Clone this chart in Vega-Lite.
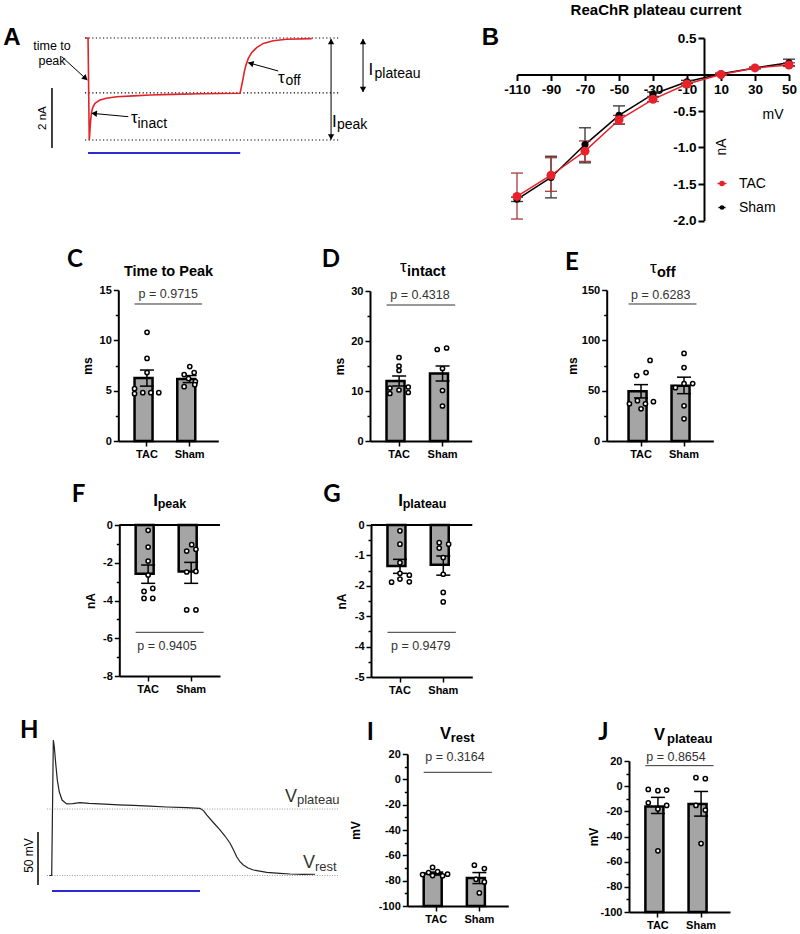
{
  "$schema": "https://vega.github.io/schema/vega-lite/v6.json",
  "width": 800,
  "height": 934,
  "padding": 0,
  "autosize": {"type": "none"},
  "background": "white",
  "config": {
    "view": {"stroke": null},
    "font": "Liberation Sans",
    "locale": {"number": {"decimal": ".", "thousands": ",", "grouping": [3], "currency": ["$", ""], "minus": "-"}},
    "axis": {"grid": false, "domainColor": "black", "domainWidth": 2, "tickColor": "black", "tickWidth": 1.5, "labelColor": "black", "labelFont": "Liberation Sans", "labelFontWeight": "bold", "titleColor": "black", "titleFont": "Liberation Sans", "titleFontWeight": "bold", "labelOverlap": false, "labelFlush": false, "labelPadding": 2}
  },
  "datasets": {
    "traceA": [
      {"t": -20, "nA": 0}, {"t": 0, "nA": 0}, {"t": 8, "nA": -3.4}, {"t": 11, "nA": -3.2}, {"t": 14, "nA": -2.95}, {"t": 18, "nA": -2.7}, {"t": 24, "nA": -2.45}, {"t": 32, "nA": -2.3}, {"t": 46, "nA": -2.18}, {"t": 62, "nA": -2.12}, {"t": 79, "nA": -2.07}, {"t": 120, "nA": -2.01}, {"t": 188, "nA": -1.96}, {"t": 300, "nA": -1.93}, {"t": 407, "nA": -1.9}, {"t": 560, "nA": -1.88}, {"t": 736, "nA": -1.86}, {"t": 999, "nA": -1.84}, {"t": 1010, "nA": -1.57}, {"t": 1017, "nA": -1.4}, {"t": 1027, "nA": -1.12}, {"t": 1038, "nA": -0.9}, {"t": 1053, "nA": -0.68}, {"t": 1075, "nA": -0.49}, {"t": 1108, "nA": -0.32}, {"t": 1152, "nA": -0.18}, {"t": 1217, "nA": -0.09}, {"t": 1305, "nA": -0.04}, {"t": 1470, "nA": -0.02}
    ],
    "levelsA": [{"nA": 0}, {"nA": -1.83}, {"nA": -3.4}],
    "arrowsA": [
      {"t1": -173, "i1": -0.623, "t2": -4.9, "i2": -1.4},
      {"t1": 264.6, "i1": -2.623, "t2": 24, "i2": -2.51},
      {"t1": 1250, "i1": -1.1, "t2": 1053, "i2": -0.823},
      {"t1": 1597, "i1": -0.033, "t2": 1597, "i2": -3.383},
      {"t1": 1807, "i1": -0.033, "t2": 1807, "i2": -1.8}
    ],
    "headsUpA": [{"t": 1597, "nA": -0.117}, {"t": 1807, "nA": -0.117}],
    "headsDownA": [{"t": 1597, "nA": -3.3}, {"t": 1807, "nA": -1.717}],
    "iv": [
      {"group": "Sham", "mV": -110, "nA": -1.71, "lo": -1.74, "hi": -1.68},
      {"group": "Sham", "mV": -90, "nA": -1.41, "lo": -1.69, "hi": -1.12},
      {"group": "Sham", "mV": -70, "nA": -0.96, "lo": -1.21, "hi": -0.73},
      {"group": "Sham", "mV": -50, "nA": -0.56, "lo": -0.68, "hi": -0.43},
      {"group": "Sham", "mV": -30, "nA": -0.27, "lo": -0.3, "hi": -0.24},
      {"group": "Sham", "mV": -10, "nA": -0.1, "lo": -0.12, "hi": -0.08},
      {"group": "Sham", "mV": 10, "nA": 0.01, "lo": 0.0, "hi": 0.02},
      {"group": "Sham", "mV": 30, "nA": 0.09, "lo": 0.08, "hi": 0.1},
      {"group": "Sham", "mV": 50, "nA": 0.16, "lo": 0.12, "hi": 0.21},
      {"group": "TAC", "mV": -110, "nA": -1.67, "lo": -1.98, "hi": -1.35},
      {"group": "TAC", "mV": -90, "nA": -1.38, "lo": -1.6, "hi": -1.14},
      {"group": "TAC", "mV": -70, "nA": -1.05, "lo": -1.19, "hi": -0.91},
      {"group": "TAC", "mV": -50, "nA": -0.62, "lo": -0.68, "hi": -0.56},
      {"group": "TAC", "mV": -30, "nA": -0.34, "lo": -0.37, "hi": -0.31},
      {"group": "TAC", "mV": -10, "nA": -0.13, "lo": -0.15, "hi": -0.11},
      {"group": "TAC", "mV": 10, "nA": 0.0, "lo": -0.01, "hi": 0.01},
      {"group": "TAC", "mV": 30, "nA": 0.09, "lo": 0.08, "hi": 0.1},
      {"group": "TAC", "mV": 50, "nA": 0.13, "lo": 0.11, "hi": 0.16}
    ],
    "bars": [
      {"panel": "C", "group": "TAC", "mean": 6.25, "lo": 5.45, "hi": 7.05},
      {"panel": "C", "group": "Sham", "mean": 6.15, "lo": 5.8, "hi": 6.5},
      {"panel": "D", "group": "TAC", "mean": 12.0, "lo": 11.0, "hi": 13.0},
      {"panel": "D", "group": "Sham", "mean": 13.5, "lo": 12.0, "hi": 15.0},
      {"panel": "E", "group": "TAC", "mean": 49.5, "lo": 42.8, "hi": 56.0},
      {"panel": "E", "group": "Sham", "mean": 55.0, "lo": 47.0, "hi": 63.4},
      {"panel": "F", "group": "TAC", "mean": -2.58, "lo": -3.09, "hi": -2.12},
      {"panel": "F", "group": "Sham", "mean": -2.47, "lo": -3.09, "hi": -1.98},
      {"panel": "G", "group": "TAC", "mean": -1.35, "lo": -1.59, "hi": -1.13},
      {"panel": "G", "group": "Sham", "mean": -1.31, "lo": -1.65, "hi": -1.02},
      {"panel": "I", "group": "TAC", "mean": -74.4, "lo": -75.6, "hi": -73.2},
      {"panel": "I", "group": "Sham", "mean": -77.8, "lo": -82.3, "hi": -73.6},
      {"panel": "J", "group": "TAC", "mean": -16.1, "lo": -21.7, "hi": -8.9},
      {"panel": "J", "group": "Sham", "mean": -14.2, "lo": -23.8, "hi": -4.2}
    ],
    "pts": [
      {"panel": "C", "group": "TAC", "v": 10.8, "col": 0}, {"panel": "C", "group": "TAC", "v": 8.2, "col": 0}, {"panel": "C", "group": "TAC", "v": 6.8, "col": 0}, {"panel": "C", "group": "TAC", "v": 5.2, "col": -1.0}, {"panel": "C", "group": "TAC", "v": 4.7, "col": -1.0}, {"panel": "C", "group": "TAC", "v": 4.8, "col": -0.34}, {"panel": "C", "group": "TAC", "v": 4.8, "col": 0.3}, {"panel": "C", "group": "TAC", "v": 4.8, "col": 0.94},
      {"panel": "C", "group": "Sham", "v": 7.4, "col": 0}, {"panel": "C", "group": "Sham", "v": 6.6, "col": -0.45}, {"panel": "C", "group": "Sham", "v": 6.8, "col": 0.35}, {"panel": "C", "group": "Sham", "v": 6.2, "col": -0.1}, {"panel": "C", "group": "Sham", "v": 5.9, "col": 0.45}, {"panel": "C", "group": "Sham", "v": 5.4, "col": -0.45}, {"panel": "C", "group": "Sham", "v": 5.6, "col": 0.4},
      {"panel": "D", "group": "TAC", "v": 16.7, "col": 0}, {"panel": "D", "group": "TAC", "v": 15.0, "col": 0}, {"panel": "D", "group": "TAC", "v": 14.1, "col": 0}, {"panel": "D", "group": "TAC", "v": 10.6, "col": -0.73}, {"panel": "D", "group": "TAC", "v": 9.5, "col": -0.73}, {"panel": "D", "group": "TAC", "v": 10.2, "col": 0}, {"panel": "D", "group": "TAC", "v": 10.8, "col": 0.74}, {"panel": "D", "group": "TAC", "v": 9.7, "col": 0.74},
      {"panel": "D", "group": "Sham", "v": 18.3, "col": -0.42}, {"panel": "D", "group": "Sham", "v": 18.6, "col": 0.33}, {"panel": "D", "group": "Sham", "v": 14.5, "col": 0}, {"panel": "D", "group": "Sham", "v": 10.1, "col": 0}, {"panel": "D", "group": "Sham", "v": 7.0, "col": 0},
      {"panel": "E", "group": "TAC", "v": 80, "col": 0.72}, {"panel": "E", "group": "TAC", "v": 65, "col": -0.35}, {"panel": "E", "group": "TAC", "v": 68, "col": 0.4}, {"panel": "E", "group": "TAC", "v": 37, "col": -0.93}, {"panel": "E", "group": "TAC", "v": 40, "col": -0.29}, {"panel": "E", "group": "TAC", "v": 37, "col": 0.35}, {"panel": "E", "group": "TAC", "v": 32, "col": 0}, {"panel": "E", "group": "TAC", "v": 39, "col": 0.99},
      {"panel": "E", "group": "Sham", "v": 87, "col": 0}, {"panel": "E", "group": "Sham", "v": 73, "col": 0}, {"panel": "E", "group": "Sham", "v": 57, "col": 0}, {"panel": "E", "group": "Sham", "v": 57, "col": 0.69}, {"panel": "E", "group": "Sham", "v": 53, "col": -0.69}, {"panel": "E", "group": "Sham", "v": 35, "col": 0}, {"panel": "E", "group": "Sham", "v": 22, "col": 0},
      {"panel": "F", "group": "TAC", "v": -0.28, "col": 0}, {"panel": "F", "group": "TAC", "v": -1.17, "col": 0}, {"panel": "F", "group": "TAC", "v": -1.91, "col": 0}, {"panel": "F", "group": "TAC", "v": -2.65, "col": 0}, {"panel": "F", "group": "TAC", "v": -3.36, "col": 0.37}, {"panel": "F", "group": "TAC", "v": -3.52, "col": -0.33}, {"panel": "F", "group": "TAC", "v": -3.89, "col": -0.33}, {"panel": "F", "group": "TAC", "v": -3.89, "col": 0.37},
      {"panel": "F", "group": "Sham", "v": -1.04, "col": 0.04}, {"panel": "F", "group": "Sham", "v": -1.38, "col": -0.36}, {"panel": "F", "group": "Sham", "v": -1.29, "col": 0.38}, {"panel": "F", "group": "Sham", "v": -2.49, "col": -0.36}, {"panel": "F", "group": "Sham", "v": -2.46, "col": 0.38}, {"panel": "F", "group": "Sham", "v": -4.5, "col": -0.36}, {"panel": "F", "group": "Sham", "v": -4.5, "col": 0.38},
      {"panel": "G", "group": "TAC", "v": -0.19, "col": 0}, {"panel": "G", "group": "TAC", "v": -0.63, "col": 0}, {"panel": "G", "group": "TAC", "v": -1.24, "col": 0}, {"panel": "G", "group": "TAC", "v": -1.59, "col": 0}, {"panel": "G", "group": "TAC", "v": -1.78, "col": 0}, {"panel": "G", "group": "TAC", "v": -1.65, "col": 0.75}, {"panel": "G", "group": "TAC", "v": -1.87, "col": 0.75}, {"panel": "G", "group": "TAC", "v": -1.88, "col": -0.67},
      {"panel": "G", "group": "Sham", "v": -0.58, "col": -0.32}, {"panel": "G", "group": "Sham", "v": -0.76, "col": -0.32}, {"panel": "G", "group": "Sham", "v": -0.63, "col": 0.43}, {"panel": "G", "group": "Sham", "v": -1.07, "col": 0}, {"panel": "G", "group": "Sham", "v": -1.62, "col": 0}, {"panel": "G", "group": "Sham", "v": -2.22, "col": 0}, {"panel": "G", "group": "Sham", "v": -2.53, "col": 0},
      {"panel": "I", "group": "TAC", "v": -75.2, "col": -1.09}, {"panel": "I", "group": "TAC", "v": -73.6, "col": -0.61}, {"panel": "I", "group": "TAC", "v": -69.6, "col": -0.29}, {"panel": "I", "group": "TAC", "v": -76.0, "col": -0.29}, {"panel": "I", "group": "TAC", "v": -72.8, "col": 0.11}, {"panel": "I", "group": "TAC", "v": -76.2, "col": 0.51}, {"panel": "I", "group": "TAC", "v": -74.9, "col": 0.91},
      {"panel": "I", "group": "Sham", "v": -67.8, "col": -0.4}, {"panel": "I", "group": "Sham", "v": -70.4, "col": 0.4}, {"panel": "I", "group": "Sham", "v": -78.9, "col": -0.27}, {"panel": "I", "group": "Sham", "v": -81.0, "col": 0.4}, {"panel": "I", "group": "Sham", "v": -89.7, "col": 0},
      {"panel": "J", "group": "TAC", "v": -2.6, "col": -0.77}, {"panel": "J", "group": "TAC", "v": -3.6, "col": 0}, {"panel": "J", "group": "TAC", "v": -3.1, "col": 0.7}, {"panel": "J", "group": "TAC", "v": -13.2, "col": -0.77}, {"panel": "J", "group": "TAC", "v": -18.2, "col": 0}, {"panel": "J", "group": "TAC", "v": -15.3, "col": 0.7}, {"panel": "J", "group": "TAC", "v": -51.4, "col": 0},
      {"panel": "J", "group": "Sham", "v": 6.7, "col": -0.41}, {"panel": "J", "group": "Sham", "v": 5.9, "col": 0.34}, {"panel": "J", "group": "Sham", "v": -15.3, "col": -0.41}, {"panel": "J", "group": "Sham", "v": -19.0, "col": 0.34}, {"panel": "J", "group": "Sham", "v": -45.6, "col": 0}
    ],
    "traceH": [
      {"t": -18, "mV": -75}, {"t": -2, "mV": -75}, {"t": 9, "mV": 52.8}, {"t": 15.5, "mV": 46.5}, {"t": 25, "mV": 30.8}, {"t": 36, "mV": 15}, {"t": 49, "mV": 4}, {"t": 68, "mV": -3.8}, {"t": 99, "mV": -7.5}, {"t": 140, "mV": -7.2}, {"t": 189, "mV": -6.3}, {"t": 250, "mV": -7.0}, {"t": 324, "mV": -7.5}, {"t": 450, "mV": -8.3}, {"t": 550, "mV": -8.9}, {"t": 660, "mV": -9.6}, {"t": 775, "mV": -10.4}, {"t": 910, "mV": -11.0}, {"t": 1000, "mV": -11.6}, {"t": 1025, "mV": -14}, {"t": 1045, "mV": -17.9}, {"t": 1090, "mV": -25}, {"t": 1135, "mV": -32}, {"t": 1170, "mV": -38}, {"t": 1203, "mV": -44.6}, {"t": 1225, "mV": -50.5}, {"t": 1248, "mV": -57.3}, {"t": 1270, "mV": -62}, {"t": 1293, "mV": -65.1}, {"t": 1325, "mV": -68}, {"t": 1361, "mV": -69.8}, {"t": 1451, "mV": -72}, {"t": 1540, "mV": -73}, {"t": 1608, "mV": -73.6}, {"t": 1700, "mV": -74}, {"t": 1777, "mV": -73.8}
    ],
    "levelsH": [{"mV": -12.3}, {"mV": -75}]
  },
  "layer": [
    {
      "layer": [
        {"data": {"name": "levelsA"}, "mark": {"type": "rule", "color": "black", "strokeWidth": 1.2, "strokeDash": [1.2, 2.4]},
         "encoding": {"x": {"datum": -20, "type": "quantitative", "scale": {"domain": [-250, 2050], "range": [50, 400], "nice": false, "zero": false}, "axis": null}, "x2": {"datum": 1656}, "y": {"field": "nA", "type": "quantitative", "scale": {"domain": [-4.1, 0.6], "range": [161, 20], "nice": false, "zero": false}, "axis": null}}},
        {"data": {"name": "traceA"}, "mark": {"type": "line", "color": "#e32227", "strokeWidth": 1.6},
         "encoding": {"x": {"field": "t", "type": "quantitative", "axis": null}, "y": {"field": "nA", "type": "quantitative", "axis": null}}},
        {"data": {"values": [{}]}, "mark": {"type": "rule", "color": "#2a2ad0", "strokeWidth": 2},
         "encoding": {"x": {"datum": 0, "type": "quantitative", "axis": null}, "x2": {"datum": 1000}, "y": {"datum": -3.833, "type": "quantitative", "axis": null}}},
        {"data": {"values": [{}]}, "mark": {"type": "rule", "color": "black", "strokeWidth": 1.5},
         "encoding": {"x": {"datum": -237, "type": "quantitative", "axis": null}, "y": {"datum": -1.667, "type": "quantitative", "axis": null}, "y2": {"datum": -3.667}}},
        {"data": {"values": [{}]}, "mark": {"type": "text", "text": "2 nA", "angle": 270, "fontSize": 11.5, "align": "center", "baseline": "middle"},
         "encoding": {"x": {"datum": -296, "type": "quantitative", "axis": null}, "y": {"datum": -2.67, "type": "quantitative", "axis": null}}},
        {"data": {"name": "arrowsA"}, "mark": {"type": "rule", "color": "black", "strokeWidth": 1},
         "encoding": {"x": {"field": "t1", "type": "quantitative", "axis": null}, "x2": {"field": "t2"}, "y": {"field": "i1", "type": "quantitative", "axis": null}, "y2": {"field": "i2"}}},
        {"data": {"name": "headsUpA"}, "mark": {"type": "point", "shape": "triangle-up", "filled": true, "color": "black", "size": 40, "opacity": 1},
         "encoding": {"x": {"field": "t", "type": "quantitative", "axis": null}, "y": {"field": "nA", "type": "quantitative", "axis": null}}},
        {"data": {"name": "headsDownA"}, "mark": {"type": "point", "shape": "triangle-down", "filled": true, "color": "black", "size": 40, "opacity": 1},
         "encoding": {"x": {"field": "t", "type": "quantitative", "axis": null}, "y": {"field": "nA", "type": "quantitative", "axis": null}}},
        {"data": {"values": [{}]}, "mark": {"type": "point", "shape": "triangle-right", "angle": 42.3, "filled": true, "color": "black", "size": 40, "opacity": 1},
         "encoding": {"x": {"datum": -17, "type": "quantitative", "axis": null}, "y": {"datum": -1.343, "type": "quantitative", "axis": null}}},
        {"data": {"values": [{}]}, "mark": {"type": "point", "shape": "triangle-right", "angle": 185.3, "filled": true, "color": "black", "size": 40, "opacity": 1},
         "encoding": {"x": {"datum": 40.5, "type": "quantitative", "axis": null}, "y": {"datum": -2.517, "type": "quantitative", "axis": null}}},
        {"data": {"values": [{}]}, "mark": {"type": "point", "shape": "triangle-right", "angle": 195.5, "filled": true, "color": "black", "size": 40, "opacity": 1},
         "encoding": {"x": {"datum": 1069, "type": "quantitative", "axis": null}, "y": {"datum": -0.847, "type": "quantitative", "axis": null}}},
        {"data": {"values": [{}]}, "mark": {"type": "text", "text": ["time to", "peak"], "lineHeight": 15, "fontSize": 12.5, "align": "center", "baseline": "middle"},
         "encoding": {"x": {"datum": -237, "type": "quantitative", "axis": null}, "y": {"datum": -0.25, "type": "quantitative", "axis": null}}},
        {"data": {"values": [{}]}, "mark": {"type": "text", "text": "τ", "fontSize": 17, "align": "left", "baseline": "alphabetic"},
         "encoding": {"x": {"datum": 282, "type": "quantitative", "axis": null}, "y": {"datum": -2.843, "type": "quantitative", "axis": null}}},
        {"data": {"values": [{}]}, "mark": {"type": "text", "text": "inact", "fontSize": 14, "align": "left", "baseline": "alphabetic"},
         "encoding": {"x": {"datum": 325, "type": "quantitative", "axis": null}, "y": {"datum": -3.0, "type": "quantitative", "axis": null}}},
        {"data": {"values": [{}]}, "mark": {"type": "text", "text": "τ", "fontSize": 17, "align": "left", "baseline": "alphabetic"},
         "encoding": {"x": {"datum": 1248, "type": "quantitative", "axis": null}, "y": {"datum": -1.49, "type": "quantitative", "axis": null}}},
        {"data": {"values": [{}]}, "mark": {"type": "text", "text": "off", "fontSize": 14, "align": "left", "baseline": "alphabetic"},
         "encoding": {"x": {"datum": 1297, "type": "quantitative", "axis": null}, "y": {"datum": -1.55, "type": "quantitative", "axis": null}}},
        {"data": {"values": [{}]}, "mark": {"type": "text", "text": "I", "fontSize": 17, "align": "left", "baseline": "alphabetic"},
         "encoding": {"x": {"datum": 1603, "type": "quantitative", "axis": null}, "y": {"datum": -2.957, "type": "quantitative", "axis": null}}},
        {"data": {"values": [{}]}, "mark": {"type": "text", "text": "peak", "fontSize": 14, "align": "left", "baseline": "alphabetic"},
         "encoding": {"x": {"datum": 1636, "type": "quantitative", "axis": null}, "y": {"datum": -3.033, "type": "quantitative", "axis": null}}},
        {"data": {"values": [{}]}, "mark": {"type": "text", "text": "I", "fontSize": 17, "align": "left", "baseline": "alphabetic"},
         "encoding": {"x": {"datum": 1843, "type": "quantitative", "axis": null}, "y": {"datum": -1.233, "type": "quantitative", "axis": null}}},
        {"data": {"values": [{}]}, "mark": {"type": "text", "text": "plateau", "fontSize": 14, "align": "left", "baseline": "alphabetic"},
         "encoding": {"x": {"datum": 1883, "type": "quantitative", "axis": null}, "y": {"datum": -1.323, "type": "quantitative", "axis": null}}},
        {"data": {"values": [{}]}, "mark": {"type": "text", "text": "A", "fontSize": 24, "fontWeight": "bold", "align": "left", "baseline": "alphabetic"},
         "encoding": {"x": {"datum": -557, "type": "quantitative", "axis": null}, "y": {"datum": -0.233, "type": "quantitative", "axis": null}}}
      ]
    },
    {
      "resolve": {"axis": {"x": "independent", "y": "independent"}},
      "layer": [
        {"data": {"name": "iv"}, "mark": {"type": "line", "strokeWidth": 1.5},
         "encoding": {
           "x": {"field": "mV", "type": "quantitative", "scale": {"domain": [-110, 50], "range": [517, 789], "nice": false, "zero": false}, "axis": {"orient": "bottom", "offset": -859.5, "values": [-110, -90, -70, -50, -30, -10, 10, 30, 50], "tickSize": 6, "tickWidth": 2, "labelFontSize": 13.5, "labelPadding": 2, "title": null}},
           "y": {"field": "nA", "type": "quantitative", "scale": {"domain": [-2, 0.5], "range": [220.5, 38], "nice": false, "zero": false}, "axis": {"orient": "left", "offset": -704, "values": [0.5, -0.5, -1, -1.5, -2], "format": ".1f", "tickSize": 6, "tickWidth": 2, "labelFontSize": 13.5, "labelPadding": 2, "title": null}},
           "stroke": {"field": "group", "type": "nominal", "scale": {"domain": ["TAC", "Sham"], "range": ["#e8212b", "#000000"]}, "legend": {"title": null, "orient": "none", "legendX": 715, "legendY": 176.5, "padding": 0, "symbolType": "M-1,0L1,0M0.45,0A0.45,0.45,0,1,1,-0.45,0A0.45,0.45,0,1,1,0.45,0Z", "symbolSize": 484, "symbolStrokeWidth": 1.5, "labelFontSize": 14, "labelFont": "Liberation Sans", "labelColor": "black", "labelOffset": 10, "rowPadding": 10}}
         }},
        {"data": {"name": "iv"}, "mark": {"type": "rule", "strokeWidth": 1.3},
         "encoding": {"x": {"field": "mV", "type": "quantitative", "axis": null}, "y": {"field": "lo", "type": "quantitative", "axis": null}, "y2": {"field": "hi"}, "color": {"field": "group", "type": "nominal", "scale": {"domain": ["TAC", "Sham"], "range": ["#a83a3a", "#333333"]}, "legend": null}}},
        {"data": {"name": "iv"}, "mark": {"type": "point", "shape": "stroke", "size": 144, "strokeWidth": 1.3, "opacity": 1},
         "encoding": {"x": {"field": "mV", "type": "quantitative", "axis": null}, "y": {"field": "lo", "type": "quantitative", "axis": null}, "color": {"field": "group", "type": "nominal", "legend": null}}},
        {"data": {"name": "iv"}, "mark": {"type": "point", "shape": "stroke", "size": 144, "strokeWidth": 1.3, "opacity": 1},
         "encoding": {"x": {"field": "mV", "type": "quantitative", "axis": null}, "y": {"field": "hi", "type": "quantitative", "axis": null}, "color": {"field": "group", "type": "nominal", "legend": null}}},
        {"data": {"name": "iv"}, "mark": {"type": "point", "filled": true, "opacity": 1},
         "encoding": {
           "x": {"field": "mV", "type": "quantitative", "axis": null},
           "y": {"field": "nA", "type": "quantitative", "axis": null},
           "fill": {"field": "group", "type": "nominal", "scale": {"domain": ["TAC", "Sham"], "range": ["#e8212b", "#000000"]}, "legend": {"title": null, "orient": "none", "legendX": 715, "legendY": 176.5, "padding": 0, "symbolType": "M-1,0L1,0M0.45,0A0.45,0.45,0,1,1,-0.45,0A0.45,0.45,0,1,1,0.45,0Z", "symbolSize": 484, "symbolStrokeWidth": 1.5, "labelFontSize": 14, "labelFont": "Liberation Sans", "labelColor": "black", "labelOffset": 10, "rowPadding": 10}},
           "size": {"field": "group", "type": "ordinal", "scale": {"domain": ["TAC", "Sham"], "range": [80, 50]}, "legend": null}
         }},
        {"data": {"values": [{}]}, "mark": {"type": "text", "text": "ReaChR plateau current", "fontSize": 15, "fontWeight": "bold", "align": "center", "baseline": "middle"},
         "encoding": {"x": {"datum": -28.2, "type": "quantitative", "axis": null}, "y": {"datum": 0.884, "type": "quantitative", "axis": null}}},
        {"data": {"values": [{}]}, "mark": {"type": "text", "text": "B", "fontSize": 24, "fontWeight": "bold", "align": "left", "baseline": "alphabetic"},
         "encoding": {"x": {"datum": -130.8, "type": "quantitative", "axis": null}, "y": {"datum": 0.404, "type": "quantitative", "axis": null}}},
        {"data": {"values": [{}]}, "mark": {"type": "text", "text": "mV", "fontSize": 14, "align": "center", "baseline": "middle"},
         "encoding": {"x": {"datum": 40.6, "type": "quantitative", "axis": null}, "y": {"datum": -0.555, "type": "quantitative", "axis": null}}},
        {"data": {"values": [{}]}, "mark": {"type": "text", "text": "nA", "fontSize": 14, "angle": 270, "align": "center", "baseline": "middle"},
         "encoding": {"x": {"datum": 10.3, "type": "quantitative", "axis": null}, "y": {"datum": -0.993, "type": "quantitative", "axis": null}}}
      ]
    },
    {
      "resolve": {"axis": {"x": "independent", "y": "independent"}},
      "layer": [
        {"data": {"name": "bars"}, "transform": [{"filter": "datum.panel === 'C'"}], "mark": {"type": "bar", "fill": "#a5a5a5", "stroke": "black", "strokeWidth": 2.5},
         "encoding": {
           "x": {"field": "group", "type": "nominal", "scale": {"domain": ["TAC", "Sham"], "range": [118.3, 218.3], "paddingInner": 0.42, "paddingOuter": 0.38}, "axis": {"orient": "bottom", "offset": -493, "tickSize": 5, "labelAngle": 0, "labelFontSize": 11, "title": null}},
           "y": {"field": "mean", "type": "quantitative", "scale": {"domain": [0, 15], "range": [441, 290], "nice": false}, "axis": {"orient": "left", "offset": -118.3, "values": [0, 5, 10, 15], "tickSize": 5, "labelFontSize": 11, "title": "ms", "titleFontSize": 12, "titleX": -31, "titleBaseline": "middle"}}
         }},
        {"data": {"name": "bars"}, "transform": [{"filter": "datum.panel === 'C'"}], "mark": {"type": "rule", "color": "black", "strokeWidth": 1.5},
         "encoding": {"x": {"field": "group", "type": "nominal", "axis": null}, "y": {"field": "lo", "type": "quantitative", "axis": null}, "y2": {"field": "hi"}}},
        {"data": {"name": "bars"}, "transform": [{"filter": "datum.panel === 'C'"}], "mark": {"type": "point", "shape": "stroke", "size": 196, "stroke": "black", "strokeWidth": 1.5, "opacity": 1},
         "encoding": {"x": {"field": "group", "type": "nominal", "axis": null}, "y": {"field": "hi", "type": "quantitative", "axis": {"orient": "left", "offset": -118.3, "values": [2.5, 7.5, 12.5], "tickSize": 3, "labels": false, "domain": false, "title": null}}}},
        {"data": {"name": "bars"}, "transform": [{"filter": "datum.panel === 'C'"}], "mark": {"type": "point", "shape": "stroke", "size": 196, "stroke": "black", "strokeWidth": 1.5, "opacity": 1},
         "encoding": {"x": {"field": "group", "type": "nominal", "axis": null}, "y": {"field": "lo", "type": "quantitative", "axis": null}}},
        {"data": {"name": "pts"}, "transform": [{"filter": "datum.panel === 'C'"}], "mark": {"type": "point", "filled": true, "fill": "white", "stroke": "black", "strokeWidth": 1.5, "size": 18, "opacity": 1},
         "encoding": {"x": {"field": "group", "type": "nominal", "axis": null}, "xOffset": {"field": "col", "type": "quantitative", "scale": {"domain": [-1, 1], "range": [0, 25]}}, "y": {"field": "v", "type": "quantitative", "axis": null}}},
        {"data": {"values": [{}]}, "mark": {"type": "rule", "color": "#333333", "strokeWidth": 1},
         "encoding": {"x": {"datum": "TAC", "bandPosition": 0, "axis": null}, "x2": {"datum": "Sham", "bandPosition": 1}, "y": {"datum": 13.61, "type": "quantitative", "axis": null}}},
        {"data": {"values": [{}]}, "mark": {"type": "text", "text": "p = 0.9715", "fontSize": 12.5, "color": "#333333", "align": "center", "baseline": "alphabetic"},
         "encoding": {"x": {"datum": "TAC", "bandPosition": 1.362, "axis": null}, "y": {"datum": 14.16, "type": "quantitative", "axis": null}}},
        {"data": {"values": [{}]}, "mark": {"type": "text", "text": "Time to Peak", "fontSize": 14.5, "fontWeight": "bold", "align": "center", "baseline": "alphabetic"},
         "encoding": {"x": {"datum": "TAC", "bandPosition": 1.37, "axis": null}, "y": {"datum": 16.39, "type": "quantitative", "axis": null}}},
        {"data": {"values": [{}]}, "mark": {"type": "text", "text": "C", "font": "Lato", "fontSize": 24, "fontWeight": "bold", "align": "left", "baseline": "alphabetic"},
         "encoding": {"x": {"datum": "TAC", "bandPosition": -2.724, "axis": null}, "y": {"datum": 17.31, "type": "quantitative", "axis": null}}}
      ]
    },
    {
      "resolve": {"axis": {"x": "independent", "y": "independent"}},
      "layer": [
        {"data": {"name": "bars"}, "transform": [{"filter": "datum.panel === 'D'"}], "mark": {"type": "bar", "fill": "#a5a5a5", "stroke": "black", "strokeWidth": 2.5},
         "encoding": {
           "x": {"field": "group", "type": "nominal", "scale": {"domain": ["TAC", "Sham"], "range": [370, 471.7], "paddingInner": 0.42, "paddingOuter": 0.38}, "axis": {"orient": "bottom", "offset": -493, "tickSize": 5, "labelAngle": 0, "labelFontSize": 11, "title": null}},
           "y": {"field": "mean", "type": "quantitative", "scale": {"domain": [0, 30], "range": [441, 291], "nice": false}, "axis": {"orient": "left", "offset": -370, "values": [0, 10, 20, 30], "tickSize": 5, "labelFontSize": 11, "title": "ms", "titleFontSize": 12, "titleX": -31, "titleBaseline": "middle"}}
         }},
        {"data": {"name": "bars"}, "transform": [{"filter": "datum.panel === 'D'"}], "mark": {"type": "rule", "color": "black", "strokeWidth": 1.5},
         "encoding": {"x": {"field": "group", "type": "nominal", "axis": null}, "y": {"field": "lo", "type": "quantitative", "axis": null}, "y2": {"field": "hi"}}},
        {"data": {"name": "bars"}, "transform": [{"filter": "datum.panel === 'D'"}], "mark": {"type": "point", "shape": "stroke", "size": 196, "stroke": "black", "strokeWidth": 1.5, "opacity": 1},
         "encoding": {"x": {"field": "group", "type": "nominal", "axis": null}, "y": {"field": "hi", "type": "quantitative", "axis": {"orient": "left", "offset": -370, "values": [5, 15, 25], "tickSize": 3, "labels": false, "domain": false, "title": null}}}},
        {"data": {"name": "bars"}, "transform": [{"filter": "datum.panel === 'D'"}], "mark": {"type": "point", "shape": "stroke", "size": 196, "stroke": "black", "strokeWidth": 1.5, "opacity": 1},
         "encoding": {"x": {"field": "group", "type": "nominal", "axis": null}, "y": {"field": "lo", "type": "quantitative", "axis": null}}},
        {"data": {"name": "pts"}, "transform": [{"filter": "datum.panel === 'D'"}], "mark": {"type": "point", "filled": true, "fill": "white", "stroke": "black", "strokeWidth": 1.5, "size": 18, "opacity": 1},
         "encoding": {"x": {"field": "group", "type": "nominal", "axis": null}, "xOffset": {"field": "col", "type": "quantitative", "scale": {"domain": [-1, 1], "range": [0, 25]}}, "y": {"field": "v", "type": "quantitative", "axis": null}}},
        {"data": {"values": [{}]}, "mark": {"type": "rule", "color": "#333333", "strokeWidth": 1},
         "encoding": {"x": {"datum": "TAC", "bandPosition": 0, "axis": null}, "x2": {"datum": "Sham", "bandPosition": 1}, "y": {"datum": 27.2, "type": "quantitative", "axis": null}}},
        {"data": {"values": [{}]}, "mark": {"type": "text", "text": "p = 0.4318", "fontSize": 12.5, "color": "#333333", "align": "center", "baseline": "alphabetic"},
         "encoding": {"x": {"datum": "TAC", "bandPosition": 1.329, "axis": null}, "y": {"datum": 28.5, "type": "quantitative", "axis": null}}},
        {"data": {"values": [{}]}, "mark": {"type": "text", "text": "τ", "fontSize": 17, "align": "left", "baseline": "alphabetic"},
         "encoding": {"x": {"datum": "TAC", "bandPosition": 0.536, "axis": null}, "y": {"datum": 33.9, "type": "quantitative", "axis": null}}},
        {"data": {"values": [{}]}, "mark": {"type": "text", "text": "intact", "fontSize": 14.5, "fontWeight": "bold", "align": "left", "baseline": "alphabetic"},
         "encoding": {"x": {"datum": "TAC", "bandPosition": 0.813, "axis": null}, "y": {"datum": 33.0, "type": "quantitative", "axis": null}}},
        {"data": {"values": [{}]}, "mark": {"type": "text", "text": "D", "font": "Lato", "fontSize": 24, "fontWeight": "bold", "align": "left", "baseline": "alphabetic"},
         "encoding": {"x": {"datum": "TAC", "bandPosition": -2.57, "axis": null}, "y": {"datum": 34.74, "type": "quantitative", "axis": null}}}
      ]
    },
    {
      "resolve": {"axis": {"x": "independent", "y": "independent"}},
      "layer": [
        {"data": {"name": "bars"}, "transform": [{"filter": "datum.panel === 'E'"}], "mark": {"type": "bar", "fill": "#a5a5a5", "stroke": "black", "strokeWidth": 2.5},
         "encoding": {
           "x": {"field": "group", "type": "nominal", "scale": {"domain": ["TAC", "Sham"], "range": [606.7, 713.3], "paddingInner": 0.42, "paddingOuter": 0.45, "align": 0.565}, "axis": {"orient": "bottom", "offset": -493, "tickSize": 5, "labelAngle": 0, "labelFontSize": 11, "title": null}},
           "y": {"field": "mean", "type": "quantitative", "scale": {"domain": [0, 150], "range": [441, 290], "nice": false}, "axis": {"orient": "left", "offset": -606.7, "values": [0, 50, 100, 150], "tickSize": 5, "labelFontSize": 11, "title": "ms", "titleFontSize": 12, "titleX": -34, "titleBaseline": "middle"}}
         }},
        {"data": {"name": "bars"}, "transform": [{"filter": "datum.panel === 'E'"}], "mark": {"type": "rule", "color": "black", "strokeWidth": 1.5},
         "encoding": {"x": {"field": "group", "type": "nominal", "axis": null}, "y": {"field": "lo", "type": "quantitative", "axis": null}, "y2": {"field": "hi"}}},
        {"data": {"name": "bars"}, "transform": [{"filter": "datum.panel === 'E'"}], "mark": {"type": "point", "shape": "stroke", "size": 196, "stroke": "black", "strokeWidth": 1.5, "opacity": 1},
         "encoding": {"x": {"field": "group", "type": "nominal", "axis": null}, "y": {"field": "hi", "type": "quantitative", "axis": {"orient": "left", "offset": -606.7, "values": [25, 75, 125], "tickSize": 3, "labels": false, "domain": false, "title": null}}}},
        {"data": {"name": "bars"}, "transform": [{"filter": "datum.panel === 'E'"}], "mark": {"type": "point", "shape": "stroke", "size": 196, "stroke": "black", "strokeWidth": 1.5, "opacity": 1},
         "encoding": {"x": {"field": "group", "type": "nominal", "axis": null}, "y": {"field": "lo", "type": "quantitative", "axis": null}}},
        {"data": {"name": "pts"}, "transform": [{"filter": "datum.panel === 'E'"}], "mark": {"type": "point", "filled": true, "fill": "white", "stroke": "black", "strokeWidth": 1.5, "size": 18, "opacity": 1},
         "encoding": {"x": {"field": "group", "type": "nominal", "axis": null}, "xOffset": {"field": "col", "type": "quantitative", "scale": {"domain": [-1, 1], "range": [0, 25]}}, "y": {"field": "v", "type": "quantitative", "axis": null}}},
        {"data": {"values": [{}]}, "mark": {"type": "rule", "color": "#333333", "strokeWidth": 1},
         "encoding": {"x": {"datum": "TAC", "bandPosition": 0, "axis": null}, "x2": {"datum": "Sham", "bandPosition": 1}, "y": {"datum": 136.1, "type": "quantitative", "axis": null}}},
        {"data": {"values": [{}]}, "mark": {"type": "text", "text": "p = 0.6283", "fontSize": 12.5, "color": "#333333", "align": "center", "baseline": "alphabetic"},
         "encoding": {"x": {"datum": "TAC", "bandPosition": 1.29, "axis": null}, "y": {"datum": 140.8, "type": "quantitative", "axis": null}}},
        {"data": {"values": [{}]}, "mark": {"type": "text", "text": "τ", "fontSize": 17, "align": "left", "baseline": "alphabetic"},
         "encoding": {"x": {"datum": "TAC", "bandPosition": 0.86, "axis": null}, "y": {"datum": 166.9, "type": "quantitative", "axis": null}}},
        {"data": {"values": [{}]}, "mark": {"type": "text", "text": "off", "fontSize": 14.5, "fontWeight": "bold", "align": "left", "baseline": "alphabetic"},
         "encoding": {"x": {"datum": "TAC", "bandPosition": 1.14, "axis": null}, "y": {"datum": 163.2, "type": "quantitative", "axis": null}}},
        {"data": {"values": [{}]}, "mark": {"type": "text", "text": "E", "font": "Lato", "fontSize": 24, "fontWeight": "bold", "align": "left", "baseline": "alphabetic"},
         "encoding": {"x": {"datum": "TAC", "bandPosition": -2.55, "axis": null}, "y": {"datum": 169.9, "type": "quantitative", "axis": null}}}
      ]
    },
    {
      "resolve": {"axis": {"x": "independent", "y": "independent"}},
      "layer": [
        {"data": {"name": "bars"}, "transform": [{"filter": "datum.panel === 'F'"}], "mark": {"type": "bar", "fill": "#a5a5a5", "stroke": "black", "strokeWidth": 2.5},
         "encoding": {
           "x": {"field": "group", "type": "nominal", "scale": {"domain": ["TAC", "Sham"], "range": [119.3, 220], "paddingInner": 0.42, "paddingOuter": 0.38}, "axis": {"orient": "bottom", "offset": -258, "tickSize": 5, "labelAngle": 0, "labelFontSize": 11, "title": null}},
           "y": {"field": "mean", "type": "quantitative", "scale": {"domain": [-8, 0], "range": [676, 525], "nice": false}, "axis": {"orient": "left", "offset": -119.3, "values": [-8, -6, -4, -2, 0], "tickSize": 5, "labelFontSize": 11, "title": "nA", "titleFontSize": 12, "titleX": -28.5, "titleBaseline": "middle"}}
         }},
        {"data": {"values": [{}]}, "mark": {"type": "rule", "color": "black", "strokeWidth": 2},
         "encoding": {"x": {"datum": "TAC", "bandPosition": -0.655, "axis": null}, "x2": {"datum": "Sham", "bandPosition": 1.655}, "y": {"datum": 0, "type": "quantitative", "axis": null}}},
        {"data": {"name": "bars"}, "transform": [{"filter": "datum.panel === 'F'"}], "mark": {"type": "rule", "color": "black", "strokeWidth": 1.5},
         "encoding": {"x": {"field": "group", "type": "nominal", "axis": null}, "y": {"field": "lo", "type": "quantitative", "axis": null}, "y2": {"field": "hi"}}},
        {"data": {"name": "bars"}, "transform": [{"filter": "datum.panel === 'F'"}], "mark": {"type": "point", "shape": "stroke", "size": 196, "stroke": "black", "strokeWidth": 1.5, "opacity": 1},
         "encoding": {"x": {"field": "group", "type": "nominal", "axis": null}, "y": {"field": "hi", "type": "quantitative", "axis": {"orient": "left", "offset": -119.3, "values": [-7, -5, -3, -1], "tickSize": 3, "labels": false, "domain": false, "title": null}}}},
        {"data": {"name": "bars"}, "transform": [{"filter": "datum.panel === 'F'"}], "mark": {"type": "point", "shape": "stroke", "size": 196, "stroke": "black", "strokeWidth": 1.5, "opacity": 1},
         "encoding": {"x": {"field": "group", "type": "nominal", "axis": null}, "y": {"field": "lo", "type": "quantitative", "axis": null}}},
        {"data": {"name": "pts"}, "transform": [{"filter": "datum.panel === 'F'"}], "mark": {"type": "point", "filled": true, "fill": "white", "stroke": "black", "strokeWidth": 1.5, "size": 18, "opacity": 1},
         "encoding": {"x": {"field": "group", "type": "nominal", "axis": null}, "xOffset": {"field": "col", "type": "quantitative", "scale": {"domain": [-1, 1], "range": [0, 25]}}, "y": {"field": "v", "type": "quantitative", "axis": null}}},
        {"data": {"values": [{}]}, "mark": {"type": "rule", "color": "#333333", "strokeWidth": 1},
         "encoding": {"x": {"datum": "TAC", "bandPosition": 0, "axis": null}, "x2": {"datum": "Sham", "bandPosition": 1}, "y": {"datum": -5.685, "type": "quantitative", "axis": null}}},
        {"data": {"values": [{}]}, "mark": {"type": "text", "text": "p = 0.9405", "fontSize": 12.5, "color": "#333333", "align": "center", "baseline": "alphabetic"},
         "encoding": {"x": {"datum": "TAC", "bandPosition": 1.256, "axis": null}, "y": {"datum": -6.62, "type": "quantitative", "axis": null}}},
        {"data": {"values": [{}]}, "mark": {"type": "text", "text": "I", "fontSize": 17, "fontWeight": "bold", "align": "left", "baseline": "alphabetic"},
         "encoding": {"x": {"datum": "TAC", "bandPosition": 0.707, "axis": null}, "y": {"datum": 1.007, "type": "quantitative", "axis": null}}},
        {"data": {"values": [{}]}, "mark": {"type": "text", "text": "peak", "fontSize": 12.5, "fontWeight": "bold", "align": "left", "baseline": "alphabetic"},
         "encoding": {"x": {"datum": "TAC", "bandPosition": 0.883, "axis": null}, "y": {"datum": 0.9, "type": "quantitative", "axis": null}}},
        {"data": {"values": [{}]}, "mark": {"type": "text", "text": "F", "font": "Lato", "fontSize": 24, "fontWeight": "bold", "align": "left", "baseline": "alphabetic"},
         "encoding": {"x": {"datum": "TAC", "bandPosition": -2.562, "axis": null}, "y": {"datum": 1.234, "type": "quantitative", "axis": null}}}
      ]
    },
    {
      "resolve": {"axis": {"x": "independent", "y": "independent"}},
      "layer": [
        {"data": {"name": "bars"}, "transform": [{"filter": "datum.panel === 'G'"}], "mark": {"type": "bar", "fill": "#a5a5a5", "stroke": "black", "strokeWidth": 2.5},
         "encoding": {
           "x": {"field": "group", "type": "nominal", "scale": {"domain": ["TAC", "Sham"], "range": [371, 472.3], "paddingInner": 0.42, "paddingOuter": 0.38}, "axis": {"orient": "bottom", "offset": -257, "tickSize": 5, "labelAngle": 0, "labelFontSize": 11, "title": null}},
           "y": {"field": "mean", "type": "quantitative", "scale": {"domain": [-5, 0], "range": [677, 525], "nice": false}, "axis": {"orient": "left", "offset": -371, "values": [-5, -4, -3, -2, -1, 0], "tickSize": 5, "labelFontSize": 11, "title": "nA", "titleFontSize": 12, "titleX": -30, "titleBaseline": "middle"}}
         }},
        {"data": {"values": [{}]}, "mark": {"type": "rule", "color": "black", "strokeWidth": 2},
         "encoding": {"x": {"datum": "TAC", "bandPosition": -0.655, "axis": null}, "x2": {"datum": "Sham", "bandPosition": 1.655}, "y": {"datum": 0, "type": "quantitative", "axis": null}}},
        {"data": {"name": "bars"}, "transform": [{"filter": "datum.panel === 'G'"}], "mark": {"type": "rule", "color": "black", "strokeWidth": 1.5},
         "encoding": {"x": {"field": "group", "type": "nominal", "axis": null}, "y": {"field": "lo", "type": "quantitative", "axis": null}, "y2": {"field": "hi"}}},
        {"data": {"name": "bars"}, "transform": [{"filter": "datum.panel === 'G'"}], "mark": {"type": "point", "shape": "stroke", "size": 196, "stroke": "black", "strokeWidth": 1.5, "opacity": 1},
         "encoding": {"x": {"field": "group", "type": "nominal", "axis": null}, "y": {"field": "hi", "type": "quantitative", "axis": {"orient": "left", "offset": -371, "values": [-4.5, -3.5, -2.5, -1.5, -0.5], "tickSize": 3, "labels": false, "domain": false, "title": null}}}},
        {"data": {"name": "bars"}, "transform": [{"filter": "datum.panel === 'G'"}], "mark": {"type": "point", "shape": "stroke", "size": 196, "stroke": "black", "strokeWidth": 1.5, "opacity": 1},
         "encoding": {"x": {"field": "group", "type": "nominal", "axis": null}, "y": {"field": "lo", "type": "quantitative", "axis": null}}},
        {"data": {"name": "pts"}, "transform": [{"filter": "datum.panel === 'G'"}], "mark": {"type": "point", "filled": true, "fill": "white", "stroke": "black", "strokeWidth": 1.5, "size": 18, "opacity": 1},
         "encoding": {"x": {"field": "group", "type": "nominal", "axis": null}, "xOffset": {"field": "col", "type": "quantitative", "scale": {"domain": [-1, 1], "range": [0, 25]}}, "y": {"field": "v", "type": "quantitative", "axis": null}}},
        {"data": {"values": [{}]}, "mark": {"type": "rule", "color": "#333333", "strokeWidth": 1},
         "encoding": {"x": {"datum": "TAC", "bandPosition": 0, "axis": null}, "x2": {"datum": "Sham", "bandPosition": 1}, "y": {"datum": -3.53, "type": "quantitative", "axis": null}}},
        {"data": {"values": [{}]}, "mark": {"type": "text", "text": "p = 0.9479", "fontSize": 12.5, "color": "#333333", "align": "center", "baseline": "alphabetic"},
         "encoding": {"x": {"datum": "TAC", "bandPosition": 1.324, "axis": null}, "y": {"datum": -4.112, "type": "quantitative", "axis": null}}},
        {"data": {"values": [{}]}, "mark": {"type": "text", "text": "I", "fontSize": 17, "fontWeight": "bold", "align": "left", "baseline": "alphabetic"},
         "encoding": {"x": {"datum": "TAC", "bandPosition": 0.432, "axis": null}, "y": {"datum": 0.625, "type": "quantitative", "axis": null}}},
        {"data": {"values": [{}]}, "mark": {"type": "text", "text": "plateau", "fontSize": 12.5, "fontWeight": "bold", "align": "left", "baseline": "alphabetic"},
         "encoding": {"x": {"datum": "TAC", "bandPosition": 0.607, "axis": null}, "y": {"datum": 0.559, "type": "quantitative", "axis": null}}},
        {"data": {"values": [{}]}, "mark": {"type": "text", "text": "G", "font": "Lato", "fontSize": 24, "fontWeight": "bold", "align": "left", "baseline": "alphabetic"},
         "encoding": {"x": {"datum": "TAC", "bandPosition": -2.555, "axis": null}, "y": {"datum": 0.766, "type": "quantitative", "axis": null}}}
      ]
    },
    {
      "layer": [
        {"data": {"name": "levelsH"}, "mark": {"type": "rule", "color": "#9a9a9a", "strokeWidth": 1, "strokeDash": [1, 1.5]},
         "encoding": {"x": {"datum": -34, "type": "quantitative", "scale": {"domain": [-300, 2300], "range": [7.6, 392.4], "nice": false, "zero": false}, "axis": null}, "x2": {"datum": 1932}, "y": {"field": "mV", "type": "quantitative", "scale": {"domain": [-100, 60], "range": [902, 732.4], "nice": false, "zero": false}, "axis": null}}},
        {"data": {"name": "traceH"}, "mark": {"type": "line", "color": "#222222", "strokeWidth": 1.2},
         "encoding": {"x": {"field": "t", "type": "quantitative", "axis": null}, "y": {"field": "mV", "type": "quantitative", "axis": null}}},
        {"data": {"values": [{}]}, "mark": {"type": "rule", "color": "#2a2ad0", "strokeWidth": 2},
         "encoding": {"x": {"datum": 0, "type": "quantitative", "axis": null}, "x2": {"datum": 1000}, "y": {"datum": -89.6, "type": "quantitative", "axis": null}}},
        {"data": {"values": [{}]}, "mark": {"type": "rule", "color": "black", "strokeWidth": 1.5},
         "encoding": {"x": {"datum": -94.6, "type": "quantitative", "axis": null}, "y": {"datum": -34, "type": "quantitative", "axis": null}, "y2": {"datum": -84}}},
        {"data": {"values": [{}]}, "mark": {"type": "text", "text": "50 mV", "angle": 270, "fontSize": 12, "align": "center", "baseline": "middle"},
         "encoding": {"x": {"datum": -154, "type": "quantitative", "axis": null}, "y": {"datum": -56.1, "type": "quantitative", "axis": null}}},
        {"data": {"values": [{}]}, "mark": {"type": "text", "text": "V", "fontSize": 18, "color": "#333333", "align": "left", "baseline": "alphabetic"},
         "encoding": {"x": {"datum": 1574, "type": "quantitative", "axis": null}, "y": {"datum": -5.19, "type": "quantitative", "axis": null}}},
        {"data": {"values": [{}]}, "mark": {"type": "text", "text": "plateau", "fontSize": 13, "color": "#333333", "align": "left", "baseline": "alphabetic"},
         "encoding": {"x": {"datum": 1655, "type": "quantitative", "axis": null}, "y": {"datum": -7.55, "type": "quantitative", "axis": null}}},
        {"data": {"values": [{}]}, "mark": {"type": "text", "text": "V", "fontSize": 18, "color": "#333333", "align": "left", "baseline": "alphabetic"},
         "encoding": {"x": {"datum": 1696, "type": "quantitative", "axis": null}, "y": {"datum": -68.2, "type": "quantitative", "axis": null}}},
        {"data": {"values": [{}]}, "mark": {"type": "text", "text": "rest", "fontSize": 13, "color": "#333333", "align": "left", "baseline": "alphabetic"},
         "encoding": {"x": {"datum": 1777, "type": "quantitative", "axis": null}, "y": {"datum": -70.3, "type": "quantitative", "axis": null}}},
        {"data": {"values": [{}]}, "mark": {"type": "text", "text": "H", "font": "Lato", "fontSize": 24, "fontWeight": "bold", "align": "left", "baseline": "alphabetic"},
         "encoding": {"x": {"datum": -216, "type": "quantitative", "axis": null}, "y": {"datum": 54.4, "type": "quantitative", "axis": null}}}
      ]
    },
    {
      "resolve": {"axis": {"x": "independent", "y": "independent"}},
      "layer": [
        {"data": {"name": "bars"}, "transform": [{"filter": "datum.panel === 'I'"}], "mark": {"type": "bar", "fill": "#a5a5a5", "stroke": "black", "strokeWidth": 2.5},
         "encoding": {
           "x": {"field": "group", "type": "nominal", "scale": {"domain": ["TAC", "Sham"], "range": [407.3, 508.3], "paddingInner": 0.42, "paddingOuter": 0.38}, "axis": {"orient": "bottom", "offset": -28, "tickSize": 5, "labelAngle": 0, "labelFontSize": 11, "title": null}},
           "y": {"field": "mean", "type": "quantitative", "scale": {"domain": [-100, 20], "range": [906, 754], "nice": false}, "axis": {"orient": "left", "offset": -407.3, "values": [-100, -80, -60, -40, -20, 0, 20], "tickSize": 5, "labelFontSize": 11, "title": "mV", "titleFontSize": 12, "titleX": -52, "titleBaseline": "middle"}},
           "y2": {"datum": -100}
         }},
        {"data": {"name": "bars"}, "transform": [{"filter": "datum.panel === 'I'"}], "mark": {"type": "rule", "color": "black", "strokeWidth": 1.5},
         "encoding": {"x": {"field": "group", "type": "nominal", "axis": null}, "y": {"field": "lo", "type": "quantitative", "axis": null}, "y2": {"field": "hi"}}},
        {"data": {"name": "bars"}, "transform": [{"filter": "datum.panel === 'I'"}], "mark": {"type": "point", "shape": "stroke", "size": 196, "stroke": "black", "strokeWidth": 1.5, "opacity": 1},
         "encoding": {"x": {"field": "group", "type": "nominal", "axis": null}, "y": {"field": "hi", "type": "quantitative", "axis": {"orient": "left", "offset": -407.3, "values": [-90, -70, -50, -30, -10, 10], "tickSize": 3, "labels": false, "domain": false, "title": null}}}},
        {"data": {"name": "bars"}, "transform": [{"filter": "datum.panel === 'I'"}], "mark": {"type": "point", "shape": "stroke", "size": 196, "stroke": "black", "strokeWidth": 1.5, "opacity": 1},
         "encoding": {"x": {"field": "group", "type": "nominal", "axis": null}, "y": {"field": "lo", "type": "quantitative", "axis": null}}},
        {"data": {"name": "pts"}, "transform": [{"filter": "datum.panel === 'I'"}], "mark": {"type": "point", "filled": true, "fill": "white", "stroke": "black", "strokeWidth": 1.5, "size": 18, "opacity": 1},
         "encoding": {"x": {"field": "group", "type": "nominal", "axis": null}, "xOffset": {"field": "col", "type": "quantitative", "scale": {"domain": [-1, 1], "range": [0, 25]}}, "y": {"field": "v", "type": "quantitative", "axis": null}}},
        {"data": {"values": [{}]}, "mark": {"type": "rule", "color": "#333333", "strokeWidth": 1},
         "encoding": {"x": {"datum": "TAC", "bandPosition": 0, "axis": null}, "x2": {"datum": "Sham", "bandPosition": 1}, "y": {"datum": 5.55, "type": "quantitative", "axis": null}}},
        {"data": {"values": [{}]}, "mark": {"type": "text", "text": "p = 0.3164", "fontSize": 12.5, "color": "#333333", "align": "center", "baseline": "alphabetic"},
         "encoding": {"x": {"datum": "TAC", "bandPosition": 1.25, "axis": null}, "y": {"datum": 14.24, "type": "quantitative", "axis": null}}},
        {"data": {"values": [{}]}, "mark": {"type": "text", "text": "V", "fontSize": 16.5, "fontWeight": "bold", "align": "left", "baseline": "alphabetic"},
         "encoding": {"x": {"datum": "TAC", "bandPosition": 0.651, "axis": null}, "y": {"datum": 32.08, "type": "quantitative", "axis": null}}},
        {"data": {"values": [{}]}, "mark": {"type": "text", "text": "rest", "fontSize": 13, "fontWeight": "bold", "align": "left", "baseline": "alphabetic"},
         "encoding": {"x": {"datum": "TAC", "bandPosition": 1.079, "axis": null}, "y": {"datum": 29.47, "type": "quantitative", "axis": null}}},
        {"data": {"values": [{}]}, "mark": {"type": "text", "text": "I", "font": "Lato", "fontSize": 24, "fontWeight": "bold", "align": "left", "baseline": "alphabetic"},
         "encoding": {"x": {"datum": "TAC", "bandPosition": -2.277, "axis": null}, "y": {"datum": 30.8, "type": "quantitative", "axis": null}}}
      ]
    },
    {
      "resolve": {"axis": {"x": "independent", "y": "independent"}},
      "layer": [
        {"data": {"name": "bars"}, "transform": [{"filter": "datum.panel === 'J'"}], "mark": {"type": "bar", "fill": "#a5a5a5", "stroke": "black", "strokeWidth": 2.5},
         "encoding": {
           "x": {"field": "group", "type": "nominal", "scale": {"domain": ["TAC", "Sham"], "range": [629, 730], "paddingInner": 0.42, "paddingOuter": 0.38}, "axis": {"orient": "bottom", "offset": -22, "tickSize": 5, "labelAngle": 0, "labelFontSize": 11, "title": null}},
           "y": {"field": "mean", "type": "quantitative", "scale": {"domain": [-100, 20], "range": [912, 761], "nice": false}, "axis": {"orient": "left", "offset": -629, "values": [-100, -80, -60, -40, -20, 0, 20], "tickSize": 5, "labelFontSize": 11, "title": "mV", "titleFontSize": 12, "titleX": -36, "titleBaseline": "middle"}},
           "y2": {"datum": -100}
         }},
        {"data": {"name": "bars"}, "transform": [{"filter": "datum.panel === 'J'"}], "mark": {"type": "rule", "color": "black", "strokeWidth": 1.5},
         "encoding": {"x": {"field": "group", "type": "nominal", "axis": null}, "y": {"field": "lo", "type": "quantitative", "axis": null}, "y2": {"field": "hi"}}},
        {"data": {"name": "bars"}, "transform": [{"filter": "datum.panel === 'J'"}], "mark": {"type": "point", "shape": "stroke", "size": 196, "stroke": "black", "strokeWidth": 1.5, "opacity": 1},
         "encoding": {"x": {"field": "group", "type": "nominal", "axis": null}, "y": {"field": "hi", "type": "quantitative", "axis": {"orient": "left", "offset": -629, "values": [-90, -70, -50, -30, -10, 10], "tickSize": 3, "labels": false, "domain": false, "title": null}}}},
        {"data": {"name": "bars"}, "transform": [{"filter": "datum.panel === 'J'"}], "mark": {"type": "point", "shape": "stroke", "size": 196, "stroke": "black", "strokeWidth": 1.5, "opacity": 1},
         "encoding": {"x": {"field": "group", "type": "nominal", "axis": null}, "y": {"field": "lo", "type": "quantitative", "axis": null}}},
        {"data": {"name": "pts"}, "transform": [{"filter": "datum.panel === 'J'"}], "mark": {"type": "point", "filled": true, "fill": "white", "stroke": "black", "strokeWidth": 1.5, "size": 18, "opacity": 1},
         "encoding": {"x": {"field": "group", "type": "nominal", "axis": null}, "xOffset": {"field": "col", "type": "quantitative", "scale": {"domain": [-1, 1], "range": [0, 25]}}, "y": {"field": "v", "type": "quantitative", "axis": null}}},
        {"data": {"values": [{}]}, "mark": {"type": "rule", "color": "#333333", "strokeWidth": 1},
         "encoding": {"x": {"datum": "TAC", "bandPosition": 0, "axis": null}, "x2": {"datum": "Sham", "bandPosition": 1}, "y": {"datum": 16.3, "type": "quantitative", "axis": null}}},
        {"data": {"values": [{}]}, "mark": {"type": "text", "text": "p = 0.8654", "fontSize": 12.5, "color": "#333333", "align": "center", "baseline": "alphabetic"},
         "encoding": {"x": {"datum": "TAC", "bandPosition": 1.222, "axis": null}, "y": {"datum": 20.2, "type": "quantitative", "axis": null}}},
        {"data": {"values": [{}]}, "mark": {"type": "text", "text": "V", "fontSize": 16.5, "fontWeight": "bold", "align": "left", "baseline": "alphabetic"},
         "encoding": {"x": {"datum": "TAC", "bandPosition": 0.343, "axis": null}, "y": {"datum": 36.69, "type": "quantitative", "axis": null}}},
        {"data": {"values": [{}]}, "mark": {"type": "text", "text": "plateau", "fontSize": 13, "fontWeight": "bold", "align": "left", "baseline": "alphabetic"},
         "encoding": {"x": {"datum": "TAC", "bandPosition": 0.863, "axis": null}, "y": {"datum": 34.3, "type": "quantitative", "axis": null}}},
        {"data": {"values": [{}]}, "mark": {"type": "text", "text": "J", "font": "Lato", "fontSize": 24, "fontWeight": "bold", "align": "left", "baseline": "alphabetic"},
         "encoding": {"x": {"datum": "TAC", "bandPosition": -1.882, "axis": null}, "y": {"datum": 36.45, "type": "quantitative", "axis": null}}}
      ]
    }
  ],
  "resolve": {"scale": {"x": "independent", "y": "independent", "xOffset": "independent", "color": "independent", "fill": "independent", "stroke": "independent", "size": "independent"}}
}
